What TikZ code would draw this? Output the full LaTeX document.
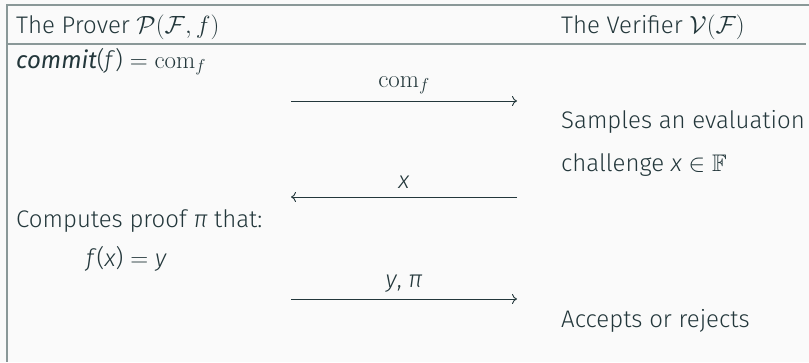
\documentclass[tikz,border=0pt]{standalone}
\usepackage{amssymb}
\usepackage[no-math]{fontspec}
\usetikzlibrary{arrows.meta}
\setmainfont{Fira Sans}[
  UprightFont={* Light},
  ItalicFont={* Light Italic},
  BoldFont={*},
  BoldItalicFont={* Italic}]
\definecolor{ink}{HTML}{23373B}
\definecolor{paper}{HTML}{FAFAFA}
\definecolor{rulecol}{HTML}{8A9898}
\tikzset{
  txt/.style={anchor=base west, inner sep=0pt, text=ink, font=\fontsize{24}{28}\selectfont},
  lbl/.style={anchor=base, inner sep=0pt, text=ink, font=\fontsize{24}{28}\selectfont},
  msg/.style={draw=ink, line width=0.9pt, -{To[length=5pt,width=10pt]}},
  frame/.style={draw=rulecol, line width=1.4pt},
}
\begin{document}
\begin{tikzpicture}[x=1pt,y=-1pt]
  % page and frame
  \fill[paper] (0,0) rectangle (809,362);
  \useasboundingbox (0,0) rectangle (809,362);
  \draw[frame, line width=2.2pt] (7,4) -- (7,362);
  \draw[frame] (6,5) -- (809,5);
  \draw[frame] (7,44) -- (806,44);

  % column headers
  \node[txt] (hp) at (16,33) {The Prover $\mathcal{P}(\mathcal{F},f)$};
  \node[txt] (hv) at (561,33) {The Verifier $\mathcal{V}(\mathcal{F})$};

  % prover side
  \node[txt] (commit) at (16,68) {\textbf{\textit{commit}}(\textit{f})${}=\mathrm{com}_f$};
  \node[txt] (proof) at (16,227) {Computes proof \textit{π} that:};
  \node[txt] (claim) at (86,266) {\textit{f}(\textit{x})${}={}$\textit{y}};

  % verifier side
  \node[txt] (samp1) at (561,128) {Samples an evaluation};
  \node[txt] (samp2) at (561,171) {challenge \textit{x} $\in\mathbb{F}$};
  \node[txt] (acc) at (561,327) {Accepts or rejects};

  % message endpoints
  \coordinate (p1) at (291,101); \coordinate (v1) at (517,101);
  \coordinate (p2) at (291,197); \coordinate (v2) at (517,197);
  \coordinate (p3) at (291,299); \coordinate (v3) at (517,299);

  % messages
  \draw[msg] (p1) -- node[lbl, yshift=14pt] (m1) {$\mathrm{com}_f$} (v1);
  \draw[msg] (v2) -- node[lbl, yshift=9pt] (m2) {\textit{x}} (p2);
  \draw[msg] (p3) -- node[lbl, yshift=12pt] (m3) {\textit{y}, \textit{π}} (v3);
\end{tikzpicture}
\end{document}
